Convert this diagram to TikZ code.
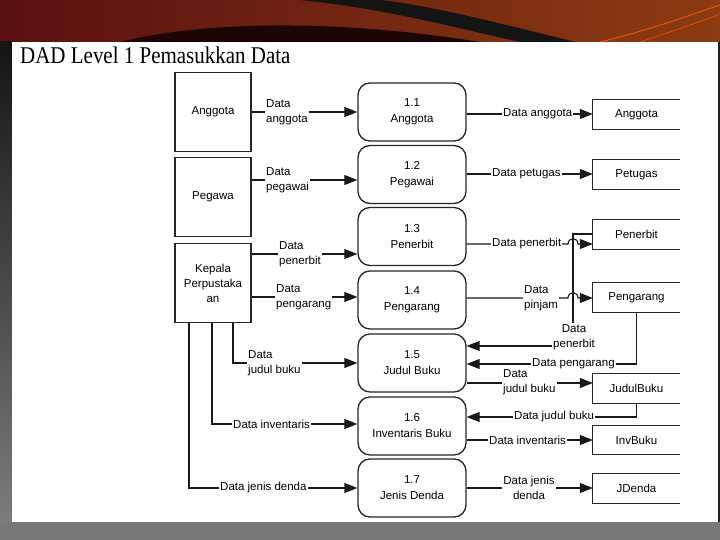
\documentclass[tikz,border=0pt]{standalone}
\usepackage{fontspec}
\usepackage{graphicx}
\newfontfamily\dadsans{Liberation Sans}
\newfontfamily\dadserif{Liberation Serif}
\usetikzlibrary{arrows.meta,calc}
\definecolor{bgred}{HTML}{5A1010}
\definecolor{bgorange}{HTML}{8C3C12}
\definecolor{bandgray}{HTML}{787878}
\begin{document}
\begin{tikzpicture}[x=1pt,y=-1pt,
  ent/.style={draw=black!85, line width=1.2pt, minimum width=76pt, minimum height=79pt, inner sep=0pt, align=center, font=\dadsans\fontsize{11.5}{15}\selectfont},
  proc/.style={draw=black!85, line width=1.3pt, rounded corners=12pt, minimum width=108pt, minimum height=58pt, inner sep=0pt, align=center, font=\dadsans\fontsize{11.5}{16}\selectfont},
  storebox/.style={minimum width=87pt, minimum height=29pt, inner sep=0pt, font=\dadsans\fontsize{11.5}{14}\selectfont},
  lbl/.style={fill=white, inner sep=1pt, font=\dadsans\fontsize{11.5}{15}\selectfont, align=left},
  clbl/.style={lbl, align=center},
  flow/.style={draw=black!90, line width=1.1pt, -{Triangle[length=13pt,width=10pt]}}
]
\useasboundingbox (0,0) rectangle (720,540);
% background
\fill[black!88] (0,0) rectangle (720,540);
\shade[left color=bgred, right color=bgorange] (0,0) rectangle (720,42);
\fill[black!70!bgred] (120,42) .. controls (200,22) and (330,18) .. (480,42) -- cycle;
\fill[black!92] (300,0) .. controls (380,8) and (440,24) .. (520,42) -- (575,42) .. controls (480,18) and (420,4) .. (380,0) -- cycle;
\draw[orange!70!red, line width=0.8pt] (600,42) .. controls (650,30) and (690,15) .. (720,5);
\draw[orange!60!red, line width=0.6pt] (640,42) .. controls (670,32) and (700,22) .. (720,14);
\shade[top color=black!92, bottom color=black!50] (0,42) rectangle (12,540);
\fill[bandgray] (0,522) rectangle (720,540);
\fill[white] (12,42) rectangle (718,522);
% title
\node[anchor=base west, inner sep=0pt] (title) at (20,64) {\scalebox{0.874}[1]{\dadserif\fontsize{24}{24}\selectfont DAD Level 1 Pemasukkan Data}};
% entities
\node[ent] (eA) at (213,112) {Anggota};
\node[ent] (eP) at (213,197) {Pegawa};
\node[ent] (eK) at (213,283) {Kepala\\Perpustaka\\an};
% processes
\node[proc] (p1) at (412,112) {1.1\\Anggota};
\node[proc] (p2) at (412,174.5) {1.2\\Pegawai};
\node[proc] (p3) at (412,236.5) {1.3\\Penerbit};
\node[proc] (p4) at (412,300) {1.4\\Pengarang};
\node[proc] (p5) at (412,363) {1.5\\Judul Buku};
\node[proc] (p6) at (412,426) {1.6\\Inventaris Buku};
\node[proc] (p7) at (412,488) {1.7\\Jenis Denda};
% stores
\node[storebox] (sA) at (636.5,114.5) {Anggota};
\node[storebox] (sPt) at (636.5,174.5) {Petugas};
\node[storebox] (sPn) at (636.5,234.5) {Penerbit};
\node[storebox] (sPg) at (636.5,297.5) {Pengarang};
\node[storebox] (sJ) at (636.5,388.5) {JudulBuku};
\node[storebox] (sI) at (636.5,440) {InvBuku};
\node[storebox] (sD) at (636.5,488.5) {JDenda};
\foreach \s in {sA,sPt,sPn,sPg,sJ,sI,sD}
  \draw[black!85, line width=1pt] (\s.north east) -- (\s.north west) -- (\s.south west) -- (\s.south east);
% left flows
\draw[flow] (eA.east |- 0,112) -- (p1.west |- 0,112);
\node[lbl,anchor=west] (l1) at (265,112) {Data\\anggota};
\draw[flow] (eP.east |- 0,180) -- (p2.west |- 0,180);
\node[lbl,anchor=west] (l2) at (265,180) {Data\\pegawai};
\draw[flow] (eK.east |- 0,254) -- (p3.west |- 0,254);
\node[lbl,anchor=west] (l3) at (278,254) {Data\\penerbit};
\draw[flow] (eK.east |- 0,297) -- (p4.west |- 0,297);
\node[lbl,anchor=west] (l4) at (275,297) {Data\\pengarang};
\draw[flow] (eK.south -| 233,0) -- (233,363) -- (p5.west |- 0,363);
\node[lbl,anchor=west] (l5) at (247,363) {Data\\judul buku};
\draw[flow] (eK.south -| 212,0) -- (212,424) -- (p6.west |- 0,424);
\node[lbl,anchor=west] (l6) at (232,424) {Data inventaris};
\draw[flow, line width=1.4pt] (eK.south -| 189,0) -- (189,488) -- (p7.west |- 0,488);
\node[lbl,anchor=west] (l7) at (219,488) {Data jenis denda};
% right flows
\draw[flow] (p1.east |- 0,114) -- (sA.west |- 0,114);
\node[lbl,anchor=west] (r1) at (502,114) {Data anggota};
\draw[flow] (p2.east |- 0,174) -- (sPt.west |- 0,174);
\node[lbl,anchor=west] (r2) at (491,174) {Data petugas};
\draw[flow] (p3.east |- 0,244) -- (568,244) .. controls (568,237) and (578,237) .. (578,244) -- (sPn.west |- 0,244);
\node[lbl,anchor=west] (r3) at (491,244) {Data penerbit};
\draw[flow] (p4.east |- 0,298) -- (568,298) .. controls (568,291) and (578,291) .. (578,298) -- (sPg.west |- 0,298);
\node[lbl,anchor=west] (r4) at (523,298) {Data\\pinjam};
\draw[flow] (sPn.west |- 0,234) -- (573,234) -- (573,346) -- (p5.east |- 0,346);
\node[clbl] (r5) at (574,337) {Data\\penerbit};
\draw[flow] (sPg.south) -- (sPg.south |- 0,364) -- (p5.east |- 0,364);
\node[lbl,anchor=west] (r6) at (531,364) {Data pengarang};
\draw[flow] (p5.east |- 0,383) -- (sJ.west |- 0,383);
\node[lbl,anchor=west] (r7) at (502,382) {Data\\judul buku};
\draw[flow] (sJ.south) -- (sJ.south |- 0,417) -- (p6.east |- 0,417);
\node[lbl,anchor=west] (r8) at (513,417) {Data judul buku};
\draw[flow] (p6.east |- 0,440) -- (sI.west |- 0,440);
\node[lbl,anchor=west] (r9) at (488,440) {Data inventaris};
\draw[flow] (p7.east |- 0,488) -- (sD.west |- 0,488);
\node[clbl] (r10) at (529,488) {Data jenis\\denda};
\end{tikzpicture}
\end{document}
